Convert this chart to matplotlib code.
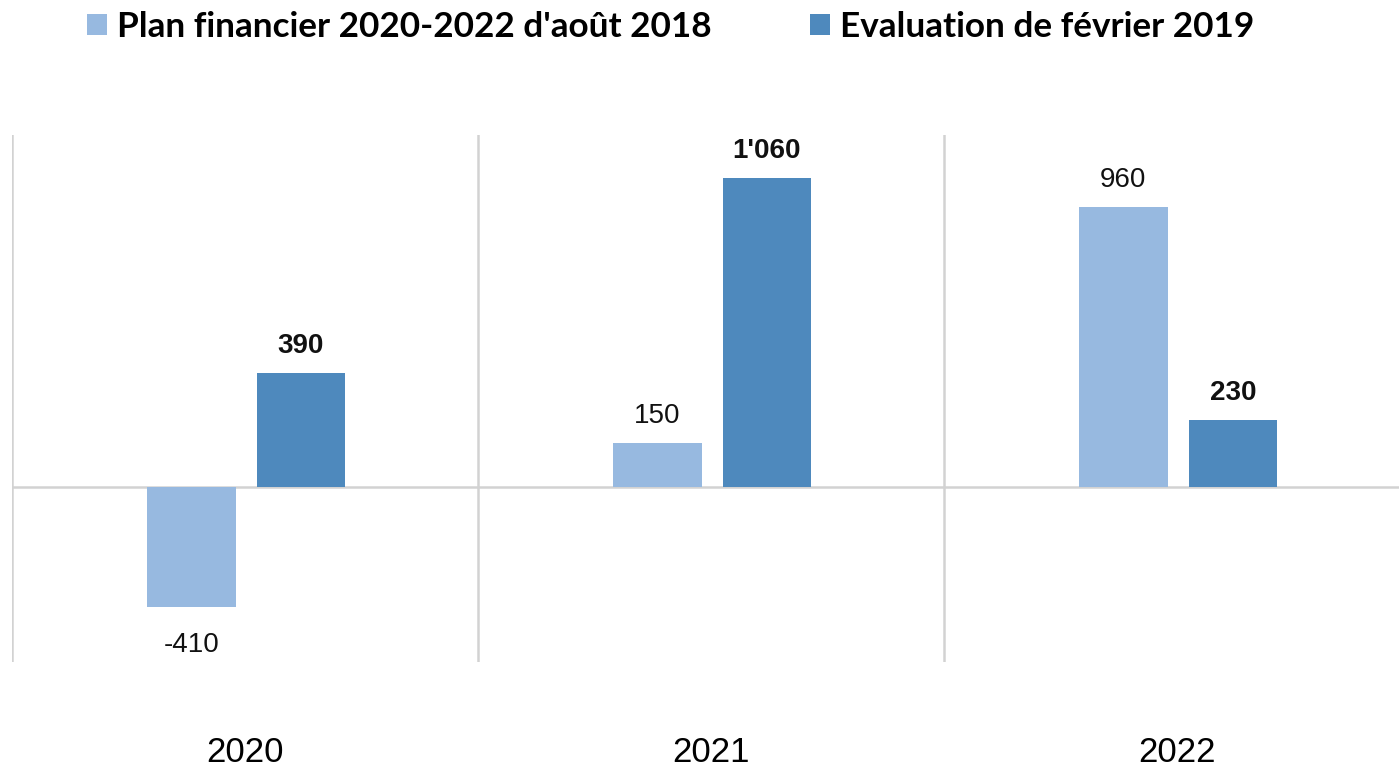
import matplotlib
matplotlib.use("Agg")
import matplotlib.pyplot as plt
from matplotlib.patches import Patch
import numpy as np

years = ["2020", "2021", "2022"]
plan_2018 = [-410, 150, 960]
eval_2019 = [390, 1060, 230]
plan_labels = ["-410", "150", "960"]
eval_labels = ["390", "1'060", "230"]
series_names = ["Plan financier 2020-2022 d'août 2018", "Evaluation de février 2019"]

c_light = "#97B9E0"
c_dark = "#4E89BD"
grid_c = "#D2D2D2"

W, H = 1399, 770
fig = plt.figure(figsize=(W / 100, H / 100), dpi=100)
ax = fig.add_axes([12 / W, (H - 662) / H, 1 - 12 / W, (662 - 135) / H])

x = np.arange(len(years))
bw = 0.19
b1 = ax.bar(x - 0.115, plan_2018, bw, color=c_light, zorder=2)
b2 = ax.bar(x + 0.12, eval_2019, bw, color=c_dark, zorder=2)

ax.set_xlim(-0.5, -0.5 + (W - 12) / 466)
ax.set_ylim(-600, 1207)

for s in ax.spines.values():
    s.set_visible(False)
ax.set_yticks([])
ax.axhline(0, color=grid_c, lw=1.8, zorder=1)
for xv in [-0.5, 0.5, 1.5]:
    ax.axvline(xv, color=grid_c, lw=1.8, zorder=1)

lab_font = ["Liberation Sans", "DejaVu Sans"]
for bars, labels, weight in [(b1, plan_labels, "normal"), (b2, eval_labels, "bold")]:
    for rect, lab in zip(bars, labels):
        h = rect.get_height()
        cx = rect.get_x() + rect.get_width() / 2
        if h >= 0:
            off = 14.4
        else:
            off = -33
        ax.annotate(lab, (cx, h), xytext=(0, off), textcoords="offset points",
                    ha="center", va="baseline", fontsize=20, fontweight=weight,
                    family=lab_font, color="#111111")

ax.set_xticks(x)
ax.set_xticklabels(years, family=lab_font, fontsize=25)
ax.tick_params(axis="x", length=0, pad=53)

handles = [Patch(facecolor=c_light), Patch(facecolor=c_dark)]
leg = fig.legend(handles, series_names, loc="upper left", bbox_to_anchor=(87 / W, 1 - 11 / H),
                 ncol=2, frameon=False, borderpad=0, borderaxespad=0,
                 handlelength=0.57, handleheight=0.57, handletextpad=0.28,
                 columnspacing=2.8,
                 prop=dict(family=["Lato", "DejaVu Sans"], weight="bold", size=25.3))

fig.savefig("out.png", dpi=100)
